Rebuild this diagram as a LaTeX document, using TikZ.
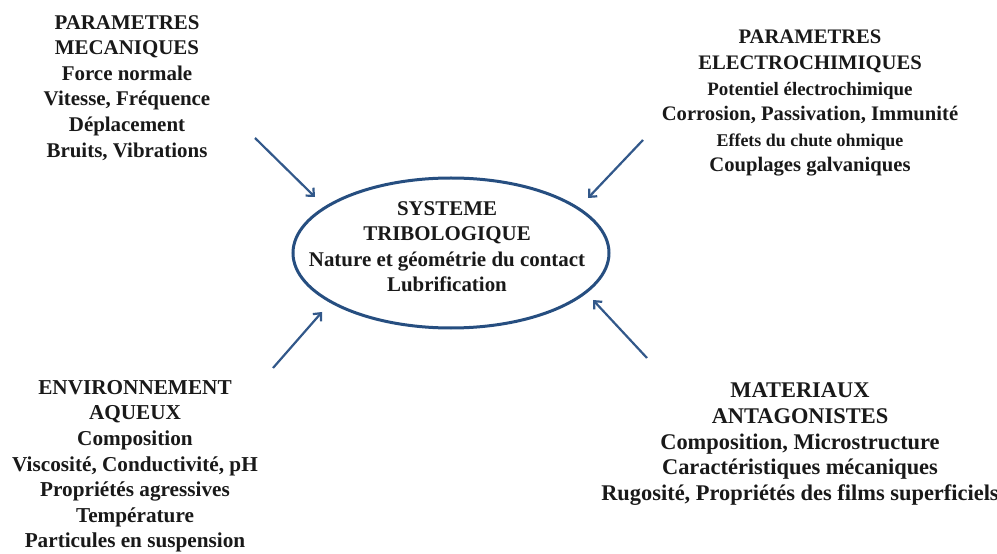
\documentclass[tikz,border=0pt]{standalone}
\usepackage{fontspec}
\setmainfont{Liberation Serif}[BoldFont={Liberation Serif Bold}]
\usetikzlibrary{arrows.meta,shapes.geometric}
\definecolor{ellcol}{RGB}{38,78,128}
\definecolor{arrcol}{RGB}{50,88,138}
\definecolor{txt}{RGB}{25,25,25}
\begin{document}
\begin{tikzpicture}[x=1bp,y=-1bp,
  blk/.style={align=center, inner sep=0pt, text=txt, anchor=north},
  fs/.style={font=\bfseries\fontsize{#1}{25.7}\selectfont},
  flow/.style={draw=arrcol, line width=2.2bp, -{Straight Barb[length=6bp,width=11bp]}}]
\fill[white] (0,0) rectangle (997,554);
\useasboundingbox (0,0) rectangle (997,554);
% central system
\node[draw=ellcol, line width=3bp, ellipse, minimum width=316bp, minimum height=150bp, inner sep=0pt] (sys) at (451,253) {};
\node[blk, fs=21] (systxt) at (447,201) {SYSTEME\\TRIBOLOGIQUE\\Nature et géométrie du contact\\Lubrification};
% four parameter blocks
\node[blk, fs=21] (meca) at (127,15) {PARAMETRES\\MECANIQUES\\Force normale\\Vitesse, Fréquence\\Déplacement\\Bruits, Vibrations};
\node[blk, fs=20.7] (elec) at (810,30) {PARAMETRES\\ELECTROCHIMIQUES\\{\fontsize{19}{25.7}\selectfont Potentiel électrochimique}\\Corrosion, Passivation, Immunité\\{\fontsize{18}{25.7}\selectfont Effets du chute ohmique}\\Couplages galvaniques};
\node[blk, fs=21.3] (env) at (135,380) {ENVIRONNEMENT\\AQUEUX\\Composition\\Viscosité, Conductivité, pH\\Propriétés agressives\\Température\\Particules en suspension};
\node[blk, fs=22.5] (mat) at (800,383) {MATERIAUX\\ANTAGONISTES\\Composition, Microstructure\\Caractéristiques mécaniques\\Rugosité, Propriétés des films superficiels};
% arrow end points
\coordinate (a1s) at (255,138); \coordinate (a1e) at (315,197);
\coordinate (a2s) at (643,140); \coordinate (a2e) at (588,198);
\coordinate (a3s) at (273,368); \coordinate (a3e) at (322,312);
\coordinate (a4s) at (647,358); \coordinate (a4e) at (593,300);
\draw[flow] (a1s) -- (a1e);
\draw[flow] (a2s) -- (a2e);
\draw[flow] (a3s) -- (a3e);
\draw[flow] (a4s) -- (a4e);
\end{tikzpicture}
\end{document}
